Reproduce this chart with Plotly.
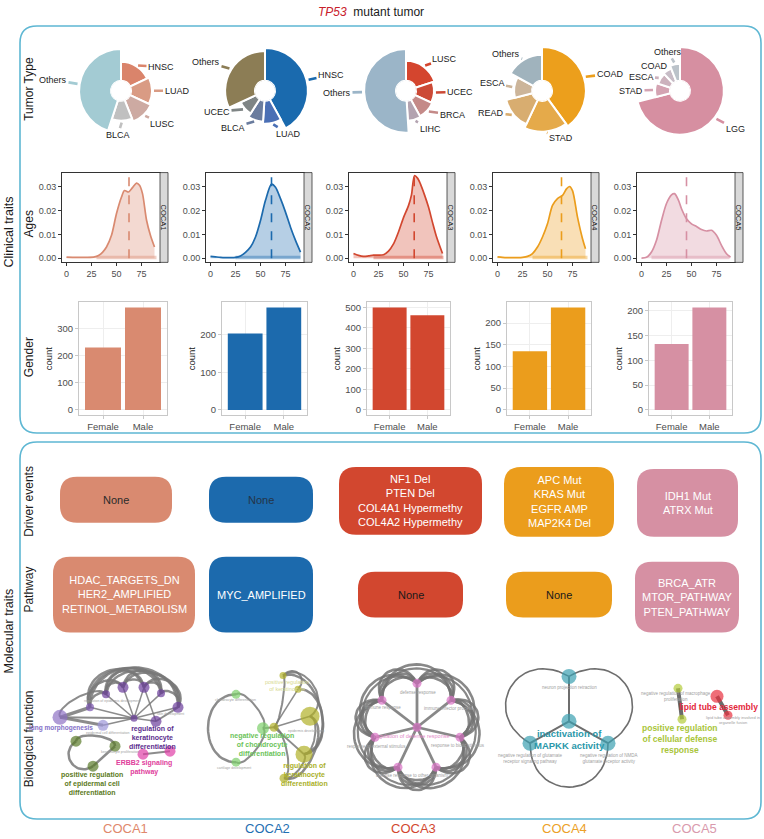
import math
import plotly.graph_objects as go

W, H = 764, 839
FONT = "Liberation Sans, Arial, Helvetica, sans-serif"

# ============================ DATA ============================
clusters = ["COCA1", "COCA2", "COCA3", "COCA4", "COCA5"]

# Tumour-type composition (listed clockwise from 12 o'clock): share in % and radial size
coca1_types = ["HNSC", "LUAD", "LUSC", "BLCA", "Others"]
coca1_share = [18, 14, 12, 11, 45]
coca1_size = [19, 21, 23, 20, 32]

coca2_types = ["HNSC", "LUAD", "BLCA", "UCEC", "Others"]
coca2_share = [42, 9, 8, 9, 32]
coca2_size = [33, 23, 21, 17, 30]

coca3_types = ["LUSC", "UCEC", "BRCA", "LIHC", "Others"]
coca3_share = [20, 12, 10, 7, 51]
coca3_size = [20, 18, 19, 20, 32]

coca4_types = ["COAD", "STAD", "READ", "ESCA", "Others"]
coca4_share = [40, 17, 14, 12, 17]
coca4_size = [34, 31, 27, 18, 26]

coca5_types = ["LGG", "STAD", "ESCA", "COAD", "Others"]
coca5_share = [71, 9, 8, 6, 6]
coca5_size = [34, 15, 13, 14, 17]

# Age density curves
coca1_age = [0, 10, 20, 28, 32, 36, 40, 45, 50, 55, 58, 62, 66, 70, 73, 76, 80, 84, 88]
coca1_dens = [0.0005, 0.0004, 0.0004, 0.0006, 0.0012, 0.0025, 0.0047, 0.0096, 0.0187, 0.0256,
              0.0283, 0.0277, 0.0295, 0.0314, 0.0305, 0.0270, 0.0160, 0.0095, 0.0047]
coca2_age = [0, 5, 10, 15, 20, 25, 30, 35, 40, 45, 50, 55, 61, 65, 70, 75, 80, 85, 90]
coca2_dens = [0.0008, 0.0006, 0.0004, 0.0003, 0.0003, 0.0004, 0.0010, 0.0025, 0.0047, 0.0089,
              0.0158, 0.0242, 0.0310, 0.0297, 0.0249, 0.0193, 0.0130, 0.0075, 0.0026]
coca3_age = [0, 5, 10, 15, 20, 25, 30, 35, 40, 45, 50, 55, 58, 61, 64, 67, 71, 75, 79, 83, 89]
coca3_dens = [0.0020, 0.0012, 0.0008, 0.0010, 0.0013, 0.0013, 0.0015, 0.0030, 0.0060, 0.0110,
              0.0170, 0.0220, 0.0265, 0.0345, 0.0335, 0.0310, 0.0265, 0.0214, 0.0150, 0.0090, 0.0020]
coca4_age = [0, 5, 10, 15, 20, 25, 30, 35, 40, 45, 50, 55, 60, 65, 69, 72, 75, 80, 85, 88]
coca4_dens = [0.0006, 0.0004, 0.0003, 0.0003, 0.0003, 0.0004, 0.0008, 0.0020, 0.0047, 0.0089,
              0.0144, 0.0221, 0.0249, 0.0263, 0.0290, 0.0300, 0.0283, 0.0172, 0.0082, 0.0040]
coca5_age = [0, 5, 10, 15, 20, 25, 30, 33, 37, 40, 45, 50, 55, 60, 65, 70, 75, 80, 85, 89]
coca5_dens = [0.0001, 0.0004, 0.0026, 0.0075, 0.0158, 0.0229, 0.0265, 0.0270, 0.0242, 0.0207,
              0.0165, 0.0144, 0.0133, 0.0120, 0.0114, 0.0117, 0.0096, 0.0054, 0.0019, 0.0005]
mean_age = [62.5, 61, 60.7, 64, 45]
rug_span = [[30, 90], [25, 90], [20, 90], [35, 90], [10, 88]]

# Gender counts
gender_levels = ["Female", "Male"]
coca1_gender = [231, 379]
coca2_gender = [203, 272]
coca3_gender = [500, 462]
coca4_gender = [135, 236]
coca5_gender = [133, 207]

# Molecular traits
driver_events = [["None"], ["None"],
                 ["NF1 Del", "PTEN Del", "COL4A1 Hypermethy", "COL4A2 Hypermethy"],
                 ["APC Mut", "KRAS Mut", "EGFR AMP", "MAP2K4 Del"],
                 ["IDH1 Mut", "ATRX Mut"]]
pathways = [["HDAC_TARGETS_DN", "HER2_AMPLIFIED", "RETINOL_METABOLISM"],
            ["MYC_AMPLIFIED"], ["None"], ["None"],
            ["BRCA_ATR", "MTOR_PATHWAY", "PTEN_PATHWAY"]]

# Biological-function networks (node layout in page px: name, x, y, size, colour group)
net1_nodes = [("a", 60, 718, 15, "lav"), ("b", 103, 726, 11, "lav2"), ("c", 90, 708, 8, "pur2"),
              ("d", 106, 695, 8, "pur"), ("e", 123, 688, 11, "pur"), ("f", 144, 688, 11, "pur"),
              ("g", 161, 694, 8, "pur"), ("h", 178, 708, 11, "pur"), ("i", 156, 722, 11, "pur"),
              ("j", 134, 719, 7, "pur"), ("k", 76, 742, 11, "grn"), ("l", 115, 747, 11, "grn"),
              ("m", 93, 767, 11, "grn"), ("n", 143, 755, 11, "pnk"), ("o", 170, 752, 11, "pnk")]
net1_edges = [("c", "h", -40, 2.5), ("d", "h", -30, 2.5), ("c", "g", -32, 2.5), ("d", "g", -26, 2.5),
              ("d", "f", -20, 2.5), ("e", "g", -20, 2.5), ("e", "h", -24, 2.5), ("c", "e", -16, 2.5),
              ("f", "h", -18, 2.5), ("d", "e", -8, 2.5), ("e", "f", -8, 2.5), ("f", "g", -8, 2.5),
              ("g", "h", -8, 2.5), ("c", "d", -6, 2.5), ("c", "f", -28, 2.5),
              ("j", "c", 0, 1.5), ("j", "d", 0, 1.5), ("j", "e", 0, 1.5), ("j", "f", 0, 1.5),
              ("j", "g", 0, 1.5), ("j", "h", 0, 1.5), ("j", "i", 0, 1.5),
              ("a", "c", 0, 3.5), ("a", "b", 0, 3), ("a", "j", 0, 2), ("a", "d", -10, 2),
              ("b", "j", 0, 1.5), ("i", "h", 0, 2), ("i", "f", 0, 1.5),
              ("k", "l", -8, 2.5), ("k", "m", 16, 2.5), ("l", "m", 0, 2.5), ("n", "o", 0, 2)]

net2_nodes = [("A", 236, 695, 9, "lgr"), ("B", 263, 729, 12, "lgr"), ("C", 236, 763, 9, "lgr"),
              ("D", 274, 728, 9, "olv"), ("E", 283, 676, 7, "olv"), ("F", 298, 690, 7, "olv"),
              ("G", 310, 717, 19, "olv"), ("H", 304, 755, 17, "olv"), ("I", 284, 779, 9, "olv")]
net2_edges = [("A", "C", 28, 2.5), ("A", "B", -8, 2), ("B", "C", -8, 2), ("B", "D", 0, 2),
              ("D", "G", 0, 1.5), ("D", "H", 0, 2), ("D", "I", -8, 2), ("D", "E", 4, 2),
              ("D", "F", 0, 1.5), ("E", "F", -12, 2), ("E", "G", -20, 2), ("F", "H", -22, 2.5),
              ("G", "I", -18, 2.5), ("H", "I", -6, 2), ("G", "H", -8, 2), ("E", "H", -28, 2.5)]

net3_center = ("Z", 417, 728, 9, "orc")
net3_ring = [("O1", 417, 684, 9, "orc"), ("O2", 451, 701, 9, "orc"), ("O3", 460, 738, 9, "orc"),
             ("O4", 436, 768, 9, "orc"), ("O5", 398, 768, 9, "orc"), ("O6", 375, 738, 9, "orc"),
             ("O7", 382, 701, 9, "orc")]

net4_nodes = [("T", 569, 677, 15, "teal"), ("M", 569, 722, 15, "teal"),
              ("L", 530, 744, 15, "teal"), ("R", 608, 744, 15, "teal")]
net4_edges = [("M", "T", 0, 2), ("M", "L", 0, 2), ("M", "R", 0, 2),
              ("T", "L", 45, 1.6), ("R", "T", 45, 1.6), ("L", "R", 44, 1.6)]

net5_nodes = [("G1", 678, 689, 9, "ygr"), ("G2", 682, 720, 9, "ygr"),
              ("R1", 717, 697, 13, "red"), ("R2", 728, 716, 9, "red")]
net5_edges = [("G1", "G2", 0, 4), ("R1", "R2", 0, 4)]

# ============================ STYLE / LAYOUT ============================
main = ["#d98a70", "#1c6aad", "#d2472f", "#eb9d1c", "#d690a3"]
label_main = ["#e0886c", "#1f6fb2", "#d2472f", "#eca128", "#d99aad"]
pie_colors = [["#da846b", "#d99b84", "#cdaaa2", "#c0c0c0", "#a3cbd3"],
              ["#1a6aae", "#4a6fb5", "#6a7c9e", "#7f8585", "#8c7d55"],
              ["#d4452e", "#cc4a36", "#c48a88", "#b3a3b0", "#9bb5c8"],
              ["#ec9f1c", "#e5aa4a", "#d8ad70", "#ccb59a", "#a0b3bd"],
              ["#d68fa1", "#d4a3b2", "#ccb2bd", "#c7bcc6", "#bbc3ca"]]
pie_centers = [(121, 90), (265, 90), (406, 90), (542, 90), (680, 90)]
pie_label_offsets = [
    [(40, -24), (56, 0), (42, 33), (-3, 44), (-68, -11)],
    [(66, -16), (23, 43), (-32, 37), (-48, 21), (-59, -29)],
    [(39, -32), (54, 1), (46, 24), (24, 38), (-69, 2)],
    [(68, -17), (19, 47), (-51, 22), (-50, -8), (-36, -37)],
    [(55, 38), (-49, 0), (-39, -14), (-25, -25), (-12, -39)],
]
dens_left = [62, 206, 349, 493, 637]
bar_frames = [(79, 167), (222, 307), (367, 450), (507, 591), (649, 732)]
bar_dtick = [100, 100, 100, 50, 50]
col_x = [125, 267, 413, 564, 694]
driver_boxes = [(60, 477, 172, 523), (209, 477, 313, 523), (339, 467, 482, 535),
                (504, 467, 614, 537), (637, 469, 738, 537)]
path_boxes = [(53, 557, 195, 633), (209, 557, 313, 633), (358, 572, 463, 618),
              (506, 572, 612, 618), (635, 562, 739, 633)]
driver_txt_col = ["#2a2a2a", "#243447", "white", "white", "white"]
path_txt_col = ["white", "white", "#1a1a1a", "#1a1a1a", "white"]
node_colors = {"lav": "#8f72c4", "lav2": "#9d96d8", "pur": "#6b3d9b", "pur2": "#7a55b0",
               "grn": "#5a7a2a", "pnk": "#e03fa6", "lgr": "#7ccf6a", "olv": "#b0b128",
               "orc": "#d872c4", "teal": "#3a9fb1", "ygr": "#b3cc3a", "red": "#e8313f"}
EDGE = "rgba(120,120,120,0.85)"
BORDER = "#5eb7d3"

all_types = [coca1_types, coca2_types, coca3_types, coca4_types, coca5_types]
all_share = [coca1_share, coca2_share, coca3_share, coca4_share, coca5_share]
all_size = [coca1_size, coca2_size, coca3_size, coca4_size, coca5_size]
all_age = [coca1_age, coca2_age, coca3_age, coca4_age, coca5_age]
all_dens = [coca1_dens, coca2_dens, coca3_dens, coca4_dens, coca5_dens]
all_gender = [coca1_gender, coca2_gender, coca3_gender, coca4_gender, coca5_gender]


def dom_x(x0, x1):
    return [x0 / W, x1 / W]


def dom_y(y0, y1):
    return [1 - y1 / H, 1 - y0 / H]


def rgba(hexc, a):
    h = hexc.lstrip("#")
    return "rgba(%d,%d,%d,%.2f)" % (int(h[0:2], 16), int(h[2:4], 16), int(h[4:6], 16), a)


def rounded(x0, y0, x1, y1, r):
    return (f"M {x0+r},{y0} L {x1-r},{y0} Q {x1},{y0} {x1},{y0+r} L {x1},{y1-r} "
            f"Q {x1},{y1} {x1-r},{y1} L {x0+r},{y1} Q {x0},{y1} {x0},{y1-r} "
            f"L {x0},{y0+r} Q {x0},{y0} {x0+r},{y0} Z")


def bez(p0, p2, b, n=28):
    dx, dy = p2[0] - p0[0], p2[1] - p0[1]
    L = math.hypot(dx, dy)
    nx, ny = -dy / L, dx / L
    c1 = (p0[0] + 4 / 3 * b * nx, p0[1] + 4 / 3 * b * ny)
    c2 = (p2[0] + 4 / 3 * b * nx, p2[1] + 4 / 3 * b * ny)
    xs, ys = [], []
    for k in range(n + 1):
        t = k / n
        u = 1 - t
        xs.append(u**3 * p0[0] + 3 * u * u * t * c1[0] + 3 * u * t * t * c2[0] + t**3 * p2[0])
        ys.append(u**3 * p0[1] + 3 * u * u * t * c1[1] + 3 * u * t * t * c2[1] + t**3 * p2[1])
    return xs, ys


fig = go.Figure()
lay = {}
lay["xaxis"] = dict(domain=[0, 1], range=[0, W], visible=False, fixedrange=True)
lay["yaxis"] = dict(domain=[0, 1], range=[H, 0], visible=False, fixedrange=True)
shapes = []
ann = []


def text(x, y, t, size=12, color="#1a1a1a", angle=0, **kw):
    ann.append(dict(x=x, y=y, xref="x", yref="y", text=t, showarrow=False, textangle=angle,
                    font=dict(size=size, color=color, family=FONT), **kw))


# ---- panel borders & labels ----
shapes.append(dict(type="path", path=rounded(20, 25, 761, 433, 17), xref="x", yref="y",
                   line=dict(color=BORDER, width=1.6), layer="below"))
shapes.append(dict(type="path", path=rounded(20, 442, 761, 820, 17), xref="x", yref="y",
                   line=dict(color=BORDER, width=1.6), layer="below"))
text(371, 11, '<i><span style="color:#c8202a">TP53</span></i>  mutant tumor', size=12)
text(9, 232, "Clinical traits", size=12.5, angle=-90)
text(9, 632, "Molecular traits", size=12.5, angle=-90)
for lbl, yy in [("Tumor Type", 88), ("Ages", 224), ("Gender", 357), ("Driver events", 502),
                ("Pathway", 590), ("Biological function", 740)]:
    text(29, yy, lbl, size=12, angle=-90)
for i, c in enumerate(clusters):
    text(col_x[i], 829, c, size=13, color=label_main[i])

# ---- tumour type roses ----
for i in range(5):
    cx, cy = pie_centers[i]
    shares = all_share[i]
    widths = [s * 3.6 for s in shares]
    thetas, acc = [], 0
    for w in widths:
        thetas.append(acc + w / 2)
        acc += w
    pname = "polar" if i == 0 else f"polar{i+1}"
    fig.add_trace(go.Barpolar(r=all_size[i], theta=thetas, width=widths,
                              marker=dict(color=pie_colors[i], line=dict(color="white", width=2)),
                              subplot=pname, showlegend=False, hoverinfo="skip"))
    lay[pname] = dict(domain=dict(x=dom_x(cx - 50, cx + 50), y=dom_y(cy - 50, cy + 50)),
                      hole=0.2, bgcolor="rgba(0,0,0,0)",
                      radialaxis=dict(range=[0, 40], visible=False),
                      angularaxis=dict(visible=False, direction="clockwise", rotation=90))
    for k, t in enumerate(all_types[i]):
        th = math.radians(thetas[k])
        R = 10 + all_size[i][k] + 1
        ex, ey = cx + R * math.sin(th), cy - R * math.cos(th)
        lx, ly = cx + pie_label_offsets[i][k][0], cy + pie_label_offsets[i][k][1]
        ann.append(dict(x=ex, y=ey, xref="x", yref="y", ax=lx - ex, ay=ly - ey,
                        axref="pixel", ayref="pixel", text=t, showarrow=True, arrowhead=0,
                        arrowwidth=2.6, arrowcolor=pie_colors[i][k], standoff=1,
                        font=dict(size=9, color="#1a1a1a", family=FONT)))

# ---- age densities ----
for i in range(5):
    n = i + 2
    xa, ya = f"x{n}", f"y{n}"
    x0 = dens_left[i]
    x1 = x0 + 98
    col = main[i]
    fig.add_trace(go.Scatter(x=all_age[i], y=all_dens[i], mode="lines",
                             line=dict(color=col, width=1.7, shape="spline", smoothing=0.8),
                             fill="tozeroy", fillcolor=rgba(col, 0.32), xaxis=xa, yaxis=ya,
                             showlegend=False, hoverinfo="skip"))
    fig.add_trace(go.Scatter(x=rug_span[i], y=[0.0003, 0.0003], mode="lines",
                             line=dict(color=rgba(col, 0.4), width=3.5), xaxis=xa, yaxis=ya,
                             showlegend=False, hoverinfo="skip"))
    fig.add_trace(go.Scatter(x=[mean_age[i], mean_age[i]], y=[0, 0.034], mode="lines",
                             line=dict(color=col, width=1.6, dash="dash"), xaxis=xa, yaxis=ya,
                             showlegend=False, hoverinfo="skip"))
    lay[f"xaxis{n}"] = dict(domain=dom_x(x0, x1), anchor=ya, range=[-4.5, 93.5],
                            tickvals=[0, 25, 50, 75], showline=True, linecolor="#333",
                            linewidth=1, mirror=True, ticks="outside", ticklen=3,
                            tickcolor="#333", tickfont=dict(size=9, color="#4d4d4d"),
                            showgrid=False, zeroline=False, fixedrange=True)
    lay[f"yaxis{n}"] = dict(domain=dom_y(172, 262), anchor=xa, range=[-0.0017, 0.0358],
                            tickvals=[0, 0.01, 0.02, 0.03], tickformat=".2f", showline=True,
                            linecolor="#333", linewidth=1, mirror=True, ticks="outside",
                            ticklen=3, tickcolor="#333", tickfont=dict(size=9, color="#4d4d4d"),
                            showgrid=False, zeroline=False, fixedrange=True)
    shapes.append(dict(type="rect", xref="x", yref="y", x0=x1, x1=x1 + 8, y0=172, y1=262,
                       fillcolor="#d9d9d9", line=dict(color="#333", width=0.8), layer="above"))
    text(x1 + 4, 217, clusters[i], size=7.5, angle=90)

# ---- gender bars ----
for i in range(5):
    n = i + 7
    xa, ya = f"x{n}", f"y{n}"
    bx0, bx1 = bar_frames[i]
    m = max(all_gender[i])
    fig.add_trace(go.Bar(x=gender_levels, y=all_gender[i], width=0.9, marker_color=main[i],
                         marker_line_width=0, xaxis=xa, yaxis=ya, showlegend=False,
                         hoverinfo="skip"))
    lay[f"xaxis{n}"] = dict(domain=dom_x(bx0, bx1), anchor=ya, type="category",
                            range=[-0.6, 1.6], showline=True, linecolor="#c8c8c8", mirror=True,
                            ticks="outside", ticklen=3, tickcolor="#c8c8c8", showgrid=True,
                            gridcolor="#eeeeee", tickfont=dict(size=9.5, color="#4d4d4d"),
                            fixedrange=True)
    lay[f"yaxis{n}"] = dict(domain=dom_y(302, 415), anchor=xa, range=[-0.05 * m, 1.05 * m],
                            dtick=bar_dtick[i], showline=True, linecolor="#c8c8c8", mirror=True,
                            ticks="outside", ticklen=3, tickcolor="#c8c8c8", showgrid=True,
                            gridcolor="#eeeeee", zeroline=False,
                            tickfont=dict(size=9.5, color="#4d4d4d"),
                            title=dict(text="count", font=dict(size=9.5, color="#1a1a1a"),
                                       standoff=2), fixedrange=True)

# ---- driver events / pathway boxes ----
for i in range(5):
    for boxes, texts, tcol in [(driver_boxes, driver_events, driver_txt_col),
                               (path_boxes, pathways, path_txt_col)]:
        x0, y0, x1, y1 = boxes[i]
        shapes.append(dict(type="path", path=rounded(x0, y0, x1, y1, 17), xref="x", yref="y",
                           fillcolor=main[i], line=dict(width=0), layer="below"))
        text((x0 + x1) / 2, (y0 + y1) / 2, "<br>".join(texts[i]), size=11, color=tcol[i])


# ---- networks ----
def draw_net(nodes, edges, edge_color=EDGE):
    pos = {nm: (x, y) for nm, x, y, s, g in nodes}
    for a, b, bend, wdt in edges:
        xs, ys = bez(pos[a], pos[b], bend)
        fig.add_trace(go.Scatter(x=xs, y=ys, mode="lines", line=dict(color=edge_color, width=wdt),
                                 xaxis="x", yaxis="y", showlegend=False, hoverinfo="skip"))
    fig.add_trace(go.Scatter(x=[n[1] for n in nodes], y=[n[2] for n in nodes], mode="markers",
                             marker=dict(size=[n[3] for n in nodes],
                                         color=[node_colors[n[4]] for n in nodes],
                                         line=dict(width=0)),
                             xaxis="x", yaxis="y", showlegend=False, hoverinfo="skip"))


draw_net(net1_nodes, net1_edges)
draw_net(net2_nodes, net2_edges)
# COCA3: ring network
ring_edges = []
nr = len(net3_ring)
for k in range(nr):
    a = net3_ring[k][0]
    b = net3_ring[(k + 1) % nr][0]
    c2 = net3_ring[(k + 2) % nr][0]
    ring_edges.append(("Z", a, 0, 2.8))
    for bend in (-13, -18, -23):
        ring_edges.append((a, b, bend, 2.6))
    ring_edges.append((a, c2, -36, 2.6))
    ring_edges.append((a, c2, -32, 2.2))
draw_net([net3_center] + net3_ring, ring_edges, edge_color="rgba(115,115,115,0.85)")
draw_net(net4_nodes, net4_edges, edge_color="#6e6e6e")
draw_net(net5_nodes, net5_edges, edge_color="#6b6b6b")

GREY = "#a0a0a0"
# COCA1 labels
text(61, 729, "<b>lung morphogenesis</b>", size=6.5, color="#8470c8")
text(152, 738, "<b>regulation of<br>keratinocyte<br>differentiation</b>", size=7, color="#5b2d8e")
text(144, 768, "<b>ERBB2 signaling<br>pathway</b>", size=7, color="#e0409c")
text(92, 784, "<b>positive regulation<br>of epidermal cell<br>differentiation</b>", size=7,
     color="#5c7a23")
text(112, 702, "regulation of epidermis development", size=3.5, color=GREY)
text(170, 715, "skin development", size=3.5, color=GREY)
text(108, 734, "epidermal cell differentiation", size=3.5, color=GREY)
text(120, 753, "keratinocyte proliferation", size=3.5, color=GREY)
# COCA2 labels
text(262, 745, "<b>negative regulation<br>of chondrocyte<br>differentiation</b>", size=7,
     color="#6cc35a")
text(304, 775, "<b>regulation of<br>keratinocyte<br>differentiation</b>", size=7, color="#aab02a")
text(287, 686, "positive regulation<br>of keratinocyte", size=5.5, color="#d7d98f")
text(235, 701, "chondrocyte differentiation", size=3.5, color=GREY)
text(234, 769, "cartilage development", size=3.5, color=GREY)
text(306, 732, "epidermis development", size=3.5, color=GREY)
# COCA3 labels
text(418, 693, "defense response", size=4.5, color=GREY)
text(449, 709, "immune effector process", size=4.5, color=GREY)
text(458, 746, "response to biotic stimulus", size=4.5, color=GREY)
text(376, 747, "response to external stimulus", size=4.5, color=GREY)
text(383, 708, "immune response", size=4.5, color=GREY)
text(412, 776, "defense response to other organism", size=4.5, color=GREY)
text(412, 737, "regulation of defense response", size=5.5, color="#e38ac8")
# COCA4 labels
text(569, 740, "<b>inactivation of<br>MAPKK activity</b>", size=9.5, color="#2a98aa")
text(569, 688, "neuron projection retraction", size=4.5, color=GREY)
text(530, 759, "negative regulation of glutamate<br>receptor signaling pathway", size=4.5,
     color=GREY)
text(609, 759, "negative regulation of NMDA<br>glutamate receptor activity", size=4.5,
     color=GREY)
# COCA5 labels
text(718, 708, "<b>lipid tube assembly</b>", size=8.5, color="#e3263a")
text(680, 740, "<b>positive regulation<br>of cellular defense<br>response</b>", size=8.5,
     color="#a9c53a")
text(676, 697, "negative regulation of macrophage<br>proliferation", size=4.5, color=GREY)
text(733, 721, "lipid tube assembly involved in<br>organelle fusion", size=4, color=GREY)

fig.update_layout(width=W, height=H, margin=dict(l=0, r=0, t=0, b=0),
                  paper_bgcolor="white", plot_bgcolor="rgba(0,0,0,0)",
                  font=dict(family=FONT, color="#1a1a1a"), showlegend=False,
                  shapes=shapes, annotations=ann, **lay)
fig.write_html("out.html", config={"displayModeBar": False, "staticPlot": True},
               post_script="document.body.style.margin='0';document.body.style.overflow='hidden';")
